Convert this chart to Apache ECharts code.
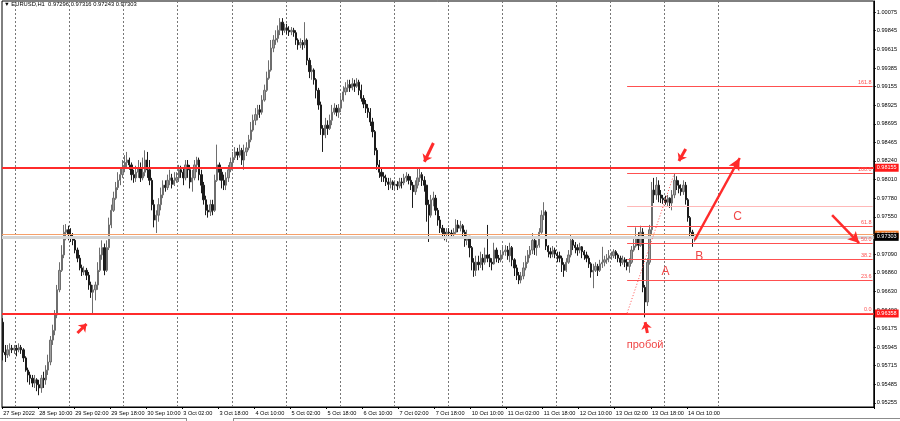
<!DOCTYPE html>
<html>
<head>
<meta charset="utf-8">
<script src="https://cdn.jsdelivr.net/npm/echarts/dist/echarts.min.js"></script>
<style>html,body{margin:0;padding:0;background:#fff;}#c{width:900px;height:421px;}</style>
</head>
<body>
<div id="c"></div>
<script>
// ---- time axis (H1 bars) ----
const tradingDays = ['27 Sep','28 Sep','29 Sep','30 Sep','3 Oct','4 Oct','5 Oct','6 Oct','7 Oct','10 Oct','11 Oct','12 Oct','13 Oct','14 Oct','17 Oct','18 Oct','19 Oct'];
const firstHour = 18;
const slotCount = 387;          // bars + chart shift space
const firstLabel = '27 Sep 2022';

// ---- y-axis tick labels ----
const yTicks = [1.00075,0.99845,0.99615,0.99385,0.99155,0.98925,0.98695,0.98465,0.98240,0.98010,0.97780,0.97550,0.97090,0.96860,0.96630,0.96400,0.96175,0.95945,0.95715,0.95485,0.95255];

// ---- candles (EURUSD H1) ----
const firstOpen = 0.9625;
const closes = [
.9588,.9585,.9591,.9593,.9591,.9593,
.9591,.9594,.9591,.9581,.9566,.9560,.9556,.9550,.9554,.9548,.9544,.9556,.9554,.9566,.9576,.9603,.9615,.9634,.9665,.9689,.9708,.9736,.9739,.9733,
.9729,.9726,.9714,.9704,.9692,.9687,.9689,.9683,.9671,.9662,.9665,.9671,.9689,.9708,.9717,.9689,.9717,.9745,.9763,.9778,.9791,.9800,.9807,.9815,
.9822,.9825,.9819,.9807,.9803,.9810,.9815,.9803,.9810,.9825,.9813,.9800,.9770,.9751,.9757,.9770,.9782,.9794,.9791,.9800,.9803,.9795,.9800,.9803,
.9813,.9810,.9803,.9819,.9813,.9798,.9803,.9819,.9825,.9807,.9794,.9776,.9763,.9761,.9770,.9763,.9800,.9819,.9810,.9800,.9794,.9803,.9813,.9822,
.9828,.9835,.9831,.9837,.9825,.9835,.9840,.9850,.9862,.9874,.9881,.9887,.9884,.9899,.9911,.9926,.9936,.9963,.9973,.9975,.9985,.9995,.9985,.9988,
.9985,.9983,.9985,.9982,.9973,.9967,.9970,.9967,.9973,.9948,.9934,.9936,.9924,.9911,.9893,.9864,.9856,.9868,.9864,.9874,.9884,.9889,.9884,.9889,
.9899,.9909,.9914,.9918,.9914,.9919,.9916,.9921,.9911,.9901,.9894,.9889,.9884,.9872,.9860,.9837,.9819,.9810,.9805,.9803,.9798,.9795,.9798,.9794,
.9795,.9793,.9798,.9797,.9803,.9805,.9800,.9794,.9786,.9794,.9803,.9807,.9800,.9794,.9770,.9757,.9776,.9778,.9763,.9751,.9741,.9736,.9734,.9736,
.9735,.9733,.9736,.9745,.9741,.9744,.9736,.9726,.9731,.9717,.9699,.9689,.9699,.9696,.9704,.9699,.9708,.9704,.9699,.9697,.9714,.9704,.9702,.9708,
.9712,.9714,.9707,.9717,.9702,.9692,.9683,.9677,.9682,.9692,.9699,.9708,.9714,.9726,.9717,.9720,.9736,.9757,.9761,.9719,.9712,.9709,.9714,.9709,
.9707,.9704,.9696,.9689,.9699,.9708,.9726,.9720,.9717,.9714,.9718,.9712,.9708,.9704,.9697,.9687,.9689,.9694,.9689,.9697,.9699,.9702,.9704,.9707,
.9707,.9712,.9708,.9704,.9699,.9702,.9699,.9694,.9699,.9714,.9719,.9729,.9720,.9736,.9668,.9650,.9699,.9739,.9788,.9782,.9794,.9782,.9778,.9776,
.9773,.9778,.9772,.9782,.9800,.9794,.9790,.9786,.9794,.9776,.9754,.9736,.97296,.97303
];
const highs = [
.9630,.9597,.9597,.9599,.9597,.9597,
.9597,.9599,.9597,.9593,.9583,.9569,.9564,.9560,.9560,.9556,.9554,.9560,.9564,.9572,.9585,.9608,.9622,.9640,.9671,.9699,.9720,.9745,.9746,.9744,
.9741,.9735,.9729,.9717,.9708,.9696,.9694,.9692,.9687,.9675,.9671,.9675,.9699,.9717,.9726,.9722,.9726,.9754,.9770,.9786,.9798,.9810,.9815,.9825,
.9831,.9835,.9828,.9822,.9813,.9818,.9825,.9822,.9828,.9837,.9835,.9825,.9803,.9776,.9763,.9778,.9791,.9800,.9800,.9807,.9813,.9808,.9810,.9810,
.9819,.9818,.9815,.9825,.9825,.9819,.9813,.9825,.9829,.9828,.9813,.9798,.9781,.9770,.9776,.9776,.9807,.9844,.9822,.9815,.9807,.9810,.9819,.9828,
.9835,.9841,.9840,.9844,.9840,.9844,.9847,.9856,.9872,.9881,.9889,.9893,.9893,.9905,.9918,.9934,.9948,.9973,.9979,.9985,.9991,1.0000,1.0000,.9993,
.9993,.9990,.9989,.9988,.9985,.9975,.9975,.9973,.9995,.9975,.9951,.9942,.9938,.9926,.9914,.9897,.9868,.9877,.9874,.9881,.9893,.9895,.9893,.9894,
.9905,.9916,.9921,.9924,.9924,.9926,.9924,.9926,.9924,.9918,.9905,.9899,.9894,.9889,.9877,.9862,.9840,.9825,.9815,.9810,.9807,.9803,.9803,.9800,
.9800,.9799,.9803,.9803,.9808,.9810,.9808,.9805,.9798,.9800,.9816,.9815,.9810,.9805,.9794,.9776,.9782,.9786,.9782,.9766,.9756,.9745,.9741,.9741,
.9741,.9739,.9741,.9752,.9751,.9750,.9746,.9739,.9739,.9731,.9719,.9704,.9707,.9707,.9712,.9709,.9717,.9745,.9709,.9704,.9723,.9717,.9708,.9714,
.9720,.9720,.9719,.9723,.9719,.9704,.9696,.9687,.9687,.9699,.9707,.9714,.9719,.9735,.9731,.9726,.9741,.9763,.9773,.9763,.9720,.9717,.9719,.9717,
.9712,.9712,.9707,.9699,.9704,.9714,.9733,.9731,.9724,.9721,.9723,.9719,.9714,.9712,.9707,.9699,.9697,.9699,.9697,.9702,.9718,.9707,.9709,.9714,
.9712,.9715,.9714,.9710,.9707,.9707,.9705,.9703,.9704,.9719,.9731,.9742,.9736,.9744,.9741,.9671,.9704,.9745,.9798,.9803,.9804,.9800,.9788,.9782,
.9781,.9782,.9779,.9788,.9809,.9805,.9800,.9795,.9800,.9798,.9778,.9756,.9739,.97316
];
const lows = [
.9578,.9576,.9581,.9583,.9587,.9586,
.9583,.9588,.9586,.9576,.9564,.9551,.9548,.9545,.9544,.9540,.9535,.9538,.9544,.9548,.9560,.9572,.9597,.9609,.9630,.9662,.9687,.9704,.9726,.9726,
.9724,.9720,.9710,.9699,.9689,.9682,.9683,.9677,.9665,.9655,.9636,.9652,.9665,.9687,.9702,.9683,.9687,.9714,.9741,.9761,.9776,.9788,.9794,.9803,
.9810,.9815,.9813,.9800,.9797,.9798,.9803,.9798,.9800,.9805,.9803,.9794,.9763,.9742,.9735,.9749,.9763,.9778,.9786,.9788,.9794,.9790,.9793,.9797,
.9798,.9803,.9794,.9800,.9803,.9790,.9786,.9800,.9810,.9800,.9784,.9770,.9757,.9754,.9756,.9757,.9761,.9798,.9800,.9790,.9788,.9788,.9798,.9810,
.9818,.9825,.9825,.9828,.9819,.9813,.9830,.9837,.9847,.9860,.9868,.9874,.9877,.9881,.9897,.9909,.9924,.9934,.9958,.9967,.9970,.9979,.9979,.9982,
.9980,.9978,.9979,.9977,.9967,.9961,.9963,.9961,.9963,.9942,.9926,.9924,.9918,.9901,.9887,.9856,.9835,.9852,.9856,.9862,.9868,.9881,.9879,.9877,
.9884,.9897,.9905,.9909,.9909,.9911,.9909,.9914,.9905,.9897,.9889,.9883,.9877,.9867,.9853,.9831,.9813,.9803,.9798,.9798,.9793,.9788,.9790,.9788,
.9788,.9788,.9790,.9790,.9794,.9798,.9795,.9788,.9766,.9782,.9790,.9798,.9793,.9786,.9749,.9724,.9754,.9768,.9757,.9744,.9735,.9729,.9726,.9724,
.9729,.9728,.9729,.9734,.9736,.9737,.9731,.9718,.9720,.9705,.9689,.9681,.9682,.9689,.9692,.9689,.9696,.9699,.9693,.9689,.9696,.9699,.9698,.9699,
.9704,.9707,.9702,.9699,.9694,.9682,.9677,.9672,.9673,.9678,.9689,.9697,.9704,.9709,.9708,.9707,.9717,.9734,.9751,.9714,.9705,.9704,.9705,.9704,
.9699,.9699,.9687,.9681,.9687,.9697,.9705,.9714,.9710,.9707,.9710,.9704,.9702,.9699,.9692,.9680,.9667,.9687,.9682,.9687,.9692,.9694,.9697,.9699,
.9702,.9704,.9703,.9699,.9694,.9696,.9693,.9689,.9686,.9697,.9712,.9717,.9714,.9718,.9662,.9631,.9645,.9696,.9733,.9772,.9776,.9773,.9772,.9771,
.9770,.9768,.9766,.9763,.9778,.9788,.9784,.9781,.9782,.9770,.9749,.9729,.9718,.97243
];

// ---- drawn objects (prices) ----
const resistance = 0.98155, support = 0.96358;
const orangeLevel = 0.97330, bidPrice = 0.97303;
const fibLow = 0.96362, fibHigh = 0.98090;
const fibLevels = [0, 23.6, 38.2, 50, 61.8, 76.4, 100, 161.8];
const header = '\u25BC EURUSD,H1  0.97296 0.97316 0.97243 0.97303';

// ---- build ----
const cats = [];
tradingDays.forEach((d, di) => {
  for (let h = (di === 0 ? firstHour : 0); h < 24 && cats.length < slotCount; h++) {
    cats.push(d + ' ' + String(h).padStart(2, '0') + ':00');
  }
});
const lastBar = closes.length - 1;
const ohlc = closes.map((c, i) => {
  const o = i === 0 ? firstOpen : closes[i - 1];
  return [o, c, Math.min(lows[i], o, c), Math.max(highs[i], o, c)];
});
const isMidnight = (i) => cats[i] && cats[i].endsWith(' 00:00') && i <= lastBar + 12;
const isLabel = (i) => i % 16 === 0 && i <= lastBar;

const RED = '#ff2b2b', FIB = '#ff5050', TXT = '#f04646';
const fibStart = 277, rightEnd = slotCount - 1;
const boxLabel = (txt, bg) => ({show:true, position:'end', distance:1, formatter: txt, backgroundColor: bg, color:'#fff', fontSize:5.5, padding:[1,2,1,2]});

const ml = [];
ml.push({yAxis: orangeLevel, lineStyle:{color:'#f5a06a', width:1, type:'solid'}, label: boxLabel(orangeLevel.toFixed(5), '#f07a2a')});
ml.push({yAxis: bidPrice, lineStyle:{color:'#d6d6d6', width:3, type:'solid'}, label: boxLabel(bidPrice.toFixed(5), '#000')});
ml.push({yAxis: resistance, lineStyle:{color:RED, width:2, type:'solid'}, label: boxLabel(resistance.toFixed(5), '#ff1a1a')});
ml.push({yAxis: support, lineStyle:{color:RED, width:2, type:'solid'}, label: boxLabel(support.toFixed(5), '#ff1a1a')});
fibLevels.forEach(lv => {
  const p = fibLow + (fibHigh - fibLow) * lv / 100;
  const faint = lv === 76.4;
  ml.push([{coord:[fibStart, p], lineStyle:{color: faint ? '#ffb8b8' : FIB, width:1, type:'solid'},
    label:{show: !faint, position:'insideEndTop', distance:1, formatter: lv.toFixed(1), color: FIB, fontSize:5.5}},
    {coord:[rightEnd, p]}]);
});
// dotted fib base line
ml.push([{coord:[fibStart, fibLow], lineStyle:{color:FIB, width:1, type:[1,2]}, label:{show:false}}, {coord:[298, fibHigh]}]);
// arrows
const arrow = (x1, y1, x2, y2, w, s) => [{coord:[x1, y1], symbol:'none', lineStyle:{color:RED, width:w, type:'solid'}, label:{show:false}},
  {coord:[x2, y2], symbol:'arrow', symbolSize:s}];
ml.push(arrow(307, 0.97264, 327, 0.98275, 2.5, [9, 12]));
ml.push(arrow(368, 0.97570, 380, 0.97227, 2.5, [9, 11]));
ml.push(arrow(33, 0.96117, 37, 0.96228, 3, [8, 7]));
ml.push(arrow(191, 0.98460, 187, 0.98229, 3, [8, 7]));
ml.push(arrow(303, 0.98386, 300, 0.98238, 3, [8, 7]));
ml.push(arrow(286, 0.96117, 285, 0.96252, 3, [8, 7]));

const txt = (x, y, t, fs) => ({coord:[x, y], label:{show:true, position:'inside', formatter:t, color:TXT, fontSize:fs}});

const option = {
  animation: false,
  backgroundColor: '#fff',
  textStyle: {fontFamily: 'Liberation Sans, Arial, sans-serif'},
  title: {text: header, left: 4, top: 1, padding: 0, textStyle: {fontSize: 5.8, fontWeight: 'normal', color: '#000'}},
  grid: {left: 2, right: 20, top: 1, bottom: 14, show: true, borderColor: '#000', borderWidth: 1, backgroundColor: 'transparent'},
  graphic: [
    {type: 'line', silent: true, shape: {x1: 0, y1: 418.5, x2: 186, y2: 418.5}, style: {stroke: '#8c8c8c', lineWidth: 1}},
    {type: 'line', silent: true, shape: {x1: 233, y1: 418.5, x2: 900, y2: 418.5}, style: {stroke: '#8c8c8c', lineWidth: 1}},
    {type: 'line', silent: true, shape: {x1: 186.5, y1: 418, x2: 186.5, y2: 421}, style: {stroke: '#8c8c8c', lineWidth: 1}},
    {type: 'line', silent: true, shape: {x1: 233.5, y1: 418, x2: 233.5, y2: 421}, style: {stroke: '#8c8c8c', lineWidth: 1}}
  ],
  xAxis: {
    type: 'category', data: cats, boundaryGap: true,
    axisLine: {lineStyle: {color: '#000', width: 1}},
    axisTick: {show: true, length: 2, interval: (i) => isLabel(i), lineStyle: {color: '#000'}},
    axisLabel: {interval: (i) => isLabel(i), align: 'left', margin: 3, fontSize: 5.6, color: '#000',
      formatter: (v, i) => i === 0 ? firstLabel : v},
    splitLine: {show: true, interval: (i) => isMidnight(i), lineStyle: {color: '#777', width: 1, type: [2, 2]}}
  },
  yAxis: {
    type: 'value', position: 'right', min: 0.95205, max: 1.00211, scale: true,
    axisLine: {show: true, lineStyle: {color: '#000', width: 1}},
    axisTick: {show: true, length: 2, customValues: yTicks, lineStyle: {color: '#000'}},
    axisLabel: {customValues: yTicks, formatter: (v) => v.toFixed(5), fontSize: 5.6, color: '#000', margin: 3},
    splitLine: {show: false}
  },
  series: [{
    type: 'candlestick', data: ohlc, barWidth: 1.8,
    itemStyle: {color: '#a0a0a0', color0: '#1c1c1c', borderColor: '#6e6e6e', borderColor0: '#1c1c1c', borderWidth: 1},
    markLine: {silent: true, animation: false, precision: 5, symbol: ['none', 'none'], data: ml},
    markPoint: {silent: true, animation: false, symbol: 'circle', symbolSize: 0, itemStyle: {color: 'transparent'},
      data: [txt(294, 0.96869, 'A', 12), txt(309, 0.97054, 'B', 12), txt(326, 0.97547, 'C', 12), txt(285, 0.95969, 'пробой', 11)]}
  }]
};
const chart = echarts.init(document.getElementById('c'));
chart.setOption(option);
</script>
</body>
</html>
